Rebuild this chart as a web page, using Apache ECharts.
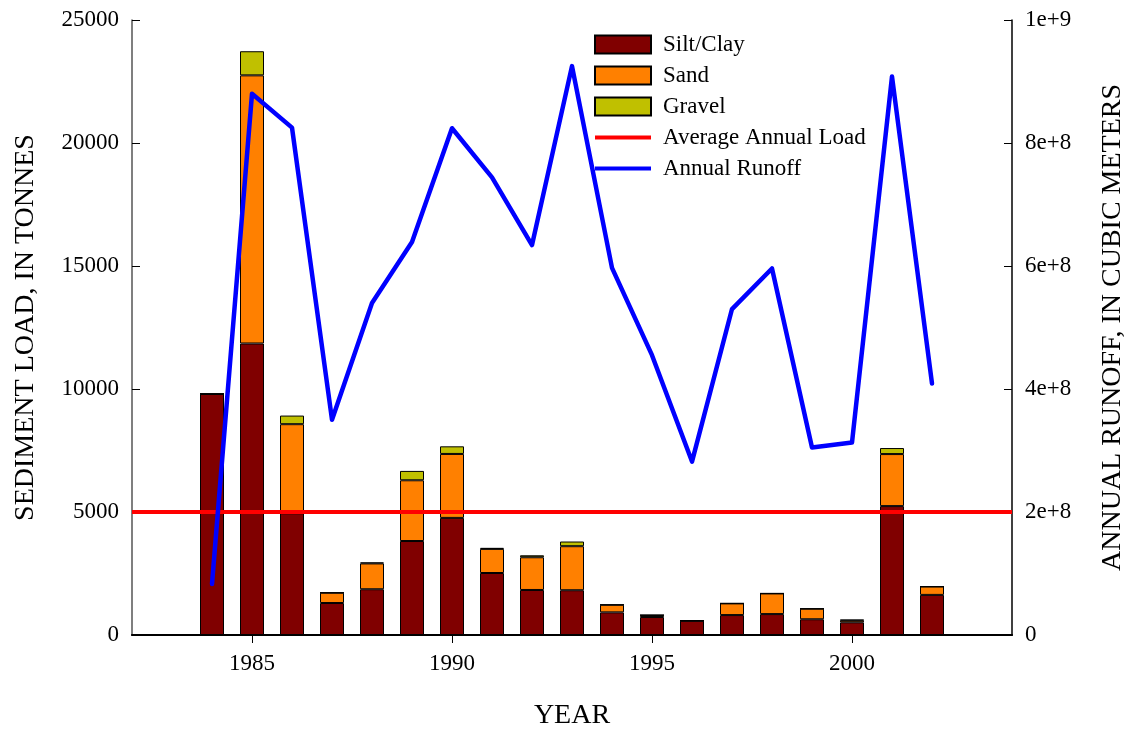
<!DOCTYPE html>
<html>
<head>
<meta charset="utf-8">
<title>Sediment Load and Annual Runoff</title>
<script src="https://cdn.jsdelivr.net/npm/echarts@6/dist/echarts.min.js"></script>
<style>
  html, body { margin: 0; padding: 0; background: #fff; }
  #chart { width: 1131px; height: 730px; }
</style>
</head>
<body>
<div id="chart"></div>
<script>
// Annual sediment load by size class (tonnes) and annual runoff (cubic meters)
const years    = [1984, 1985, 1986, 1987, 1988, 1989, 1990, 1991, 1992, 1993, 1994, 1995, 1996, 1997, 1998, 1999, 2000, 2001, 2002];
const siltClay = [9800, 11850, 4950, 1300, 1860, 3820, 4760, 2520, 1830, 1820, 920, 730, 580, 810, 850, 640, 515, 5240, 1630];
const sand     = [0, 10900, 3620, 420, 1050, 2470, 2600, 980, 1330, 1790, 310, 80, 0, 475, 840, 430, 80, 2115, 340];
const gravel   = [0, 980, 350, 0, 40, 380, 310, 40, 80, 190, 0, 0, 0, 0, 0, 0, 25, 245, 0];
const runoff   = [8.3e7, 8.80e8, 8.25e8, 3.50e8, 5.40e8, 6.39e8, 8.24e8, 7.44e8, 6.34e8, 9.25e8, 5.97e8, 4.55e8, 2.82e8, 5.30e8, 5.96e8, 3.05e8, 3.13e8, 9.08e8, 4.09e8];
const averageLoad = 5000;
const axisYears = [1982, 1983, 1984, 1985, 1986, 1987, 1988, 1989, 1990, 1991, 1992, 1993,
                   1994, 1995, 1996, 1997, 1998, 1999, 2000, 2001, 2002, 2003, 2004];
const yearTicks = [1985, 1990, 1995, 2000];

const FONT = "'Liberation Serif', 'Times New Roman', 'DejaVu Serif', serif";

// Spread a per-year series over the full axis, leaving empty years blank
function onAxis(values) {
  return axisYears.map(y => {
    const i = years.indexOf(y);
    return i < 0 ? null : values[i];
  });
}

const isTickYear = (index, value) => yearTicks.indexOf(Number(value)) >= 0;

// Runoff ticks in exponent form: 2e+8, 1e+9
function expLabel(v) {
  if (v === 0) return '0';
  const e = Math.floor(Math.log10(v) + 1e-9);
  const m = Math.round(v / Math.pow(10, e) * 100) / 100;
  return m + 'e+' + e;
}

const chart = echarts.init(document.getElementById('chart'), null, { renderer: 'canvas' });

const tickLabel = { color: '#000', fontFamily: FONT, fontSize: 23 };
const titleText = { color: '#000', fontFamily: FONT, fontSize: 28 };
const barBorder = { borderColor: '#000', borderWidth: 1 };
const lineIcon = 'path://M0,0L56,0L56,4L0,4Z';

const yearAxisBase = {
  type: 'category',
  data: axisYears.map(String),
  boundaryGap: false,
  splitLine: { show: false }
};

chart.setOption({
  animation: false,
  backgroundColor: '#fff',
  grid: { left: 132, right: 119, top: 20, bottom: 95, containLabel: false, outerBoundsMode: 'none' },
  legend: {
    orient: 'vertical',
    left: 589,
    top: 28,
    itemWidth: 56,
    itemHeight: 18,
    itemGap: 8,
    symbolKeepAspect: true,
    textStyle: { color: '#000', fontFamily: FONT, fontSize: 23, padding: [0, 0, 0, 7] },
    data: [
      { name: 'Silt/Clay', icon: 'rect' },
      { name: 'Sand', icon: 'rect' },
      { name: 'Gravel', icon: 'rect' },
      { name: 'Average Annual Load', icon: lineIcon },
      { name: 'Annual Runoff', icon: lineIcon }
    ]
  },
  xAxis: [
    Object.assign({}, yearAxisBase, {
      position: 'bottom',
      name: 'YEAR',
      nameLocation: 'middle',
      nameGap: 67,
      nameTextStyle: titleText,
      axisLine: { show: true, lineStyle: { color: '#000', width: 2 } },
      axisTick: { show: true, inside: true, length: 8, interval: isTickYear, lineStyle: { color: '#000' } },
      axisLabel: Object.assign({ margin: 17, interval: isTickYear }, tickLabel)
    }),
    Object.assign({}, yearAxisBase, {
      position: 'top',
      axisLine: { show: true, lineStyle: { color: '#000', width: 1.5 } },
      axisTick: { show: true, inside: true, length: 8, interval: isTickYear, lineStyle: { color: '#000' } },
      axisLabel: { show: false }
    })
  ],
  yAxis: [
    {
      type: 'value',
      min: 0,
      max: 25000,
      interval: 5000,
      position: 'left',
      name: 'SEDIMENT LOAD, IN TONNES',
      nameLocation: 'middle',
      nameRotate: 90,
      nameGap: 92,
      nameTextStyle: titleText,
      axisLine: { show: true, lineStyle: { color: '#555', width: 1.5 } },
      axisTick: { show: true, inside: true, length: 8, lineStyle: { color: '#000' } },
      axisLabel: Object.assign({ margin: 13, formatter: v => String(v) }, tickLabel),
      splitLine: { show: false }
    },
    {
      type: 'value',
      min: 0,
      max: 1e9,
      interval: 2e8,
      position: 'right',
      name: 'ANNUAL RUNOFF, IN CUBIC METERS',
      nameLocation: 'middle',
      nameRotate: 90,
      nameGap: 87,
      nameTextStyle: titleText,
      axisLine: { show: true, lineStyle: { color: '#000', width: 1.5 } },
      axisTick: { show: true, inside: true, length: 8, lineStyle: { color: '#000' } },
      axisLabel: Object.assign({ margin: 13, formatter: expLabel }, tickLabel),
      splitLine: { show: false }
    }
  ],
  series: [
    {
      name: 'Silt/Clay', type: 'bar', stack: 'load', barWidth: 24,
      xAxisIndex: 0, yAxisIndex: 0,
      itemStyle: Object.assign({ color: '#800000' }, barBorder),
      data: onAxis(siltClay)
    },
    {
      name: 'Sand', type: 'bar', stack: 'load', barWidth: 24,
      xAxisIndex: 0, yAxisIndex: 0,
      itemStyle: Object.assign({ color: '#ff8000' }, barBorder),
      data: onAxis(sand)
    },
    {
      name: 'Gravel', type: 'bar', stack: 'load', barWidth: 24,
      xAxisIndex: 0, yAxisIndex: 0,
      itemStyle: Object.assign({ color: '#c0c000' }, barBorder),
      data: onAxis(gravel)
    },
    {
      name: 'Average Annual Load', type: 'line',
      xAxisIndex: 0, yAxisIndex: 0,
      symbol: 'none',
      lineStyle: { color: '#ff0000', width: 4 },
      itemStyle: { color: '#ff0000' },
      data: axisYears.map(() => averageLoad)
    },
    {
      name: 'Annual Runoff', type: 'line',
      xAxisIndex: 0, yAxisIndex: 1,
      symbol: 'none',
      lineStyle: { color: '#0000ff', width: 4.5, join: 'round', cap: 'round' },
      itemStyle: { color: '#0000ff' },
      data: onAxis(runoff)
    }
  ]
});
</script>
</body>
</html>
